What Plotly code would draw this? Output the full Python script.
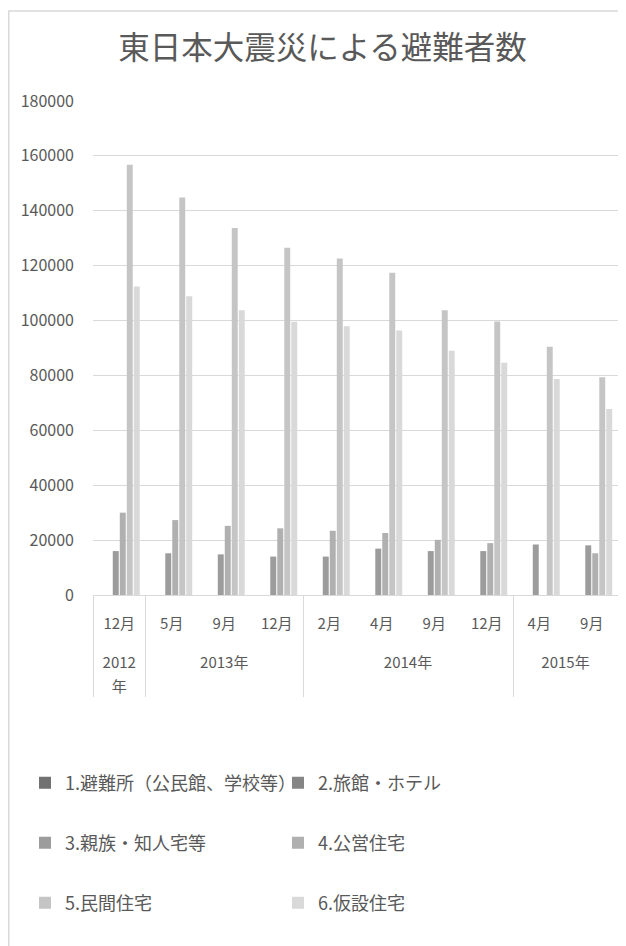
import plotly.graph_objects as go

years = ["2012<br>年", "2013年", "2013年", "2013年", "2014年", "2014年", "2014年", "2014年", "2015年", "2015年"]
months = ["12月", "5月", "9月", "12月", "2月", "4月", "9月", "12月", "4月", "9月"]

series_names = [
    "1.避難所（公民館、学校等）",
    "2.旅館・ホテル",
    "3.親族・知人宅等",
    "4.公営住宅",
    "5.民間住宅",
    "6.仮設住宅",
]
s1 = [0, 0, 0, 0, 0, 0, 0, 0, 0, 0]
s2 = [0, 0, 0, 0, 0, 0, 0, 0, 0, 0]
s3 = [16000, 15200, 14800, 14000, 14000, 16900, 16000, 16000, 18400, 18100]
s4 = [30000, 27300, 25200, 24300, 23400, 22600, 20100, 18900, 0, 15200]
s5 = [156800, 144800, 133700, 126500, 122600, 117400, 103800, 99700, 90500, 79300]
s6 = [112400, 108900, 103800, 99600, 97900, 96400, 89000, 84600, 78700, 67800]
values = [s1, s2, s3, s4, s5, s6]
colors = ["#717171", "#858585", "#9c9c9c", "#b0b0b0", "#c5c5c5", "#d9d9d9"]
legend_ids = ["legend", "legend", "legend2", "legend2", "legend3", "legend3"]

# Axis label text is drawn at 15px inside a larger base font so that the
# line spacing (1.3 x base) matches the reference's roomier label rows.
SPAN = "<span style='font-size:15px'>{}</span>"
year_labels = ["<br>".join(SPAN.format(part) for part in y.split("<br>")) for y in years]
# Plotly orders the second level of a multicategory axis by first appearance,
# so each month label gets a distinct number of zero-width spaces (invisible)
# to keep the original order; a blank line lowers the year row.
ZW = "\u200b"
month_labels = [ZW * i + SPAN.format(m) + "<br>\u00a0" for i, m in enumerate(months)]

fig = go.Figure()
for name, vals, col, lg in zip(series_names, values, colors, legend_ids):
    fig.add_trace(go.Bar(
        x=[year_labels, month_labels], y=vals, name=name,
        marker=dict(color=col, line=dict(width=0)),
        legend=lg,
    ))

# page body has an 8px margin: figure coordinates = screen - 8
W, H = 618, 938
L, R, T, B = 85, 8, 93, 351
pw = W - L - R
ph = H - T - B

def px_x(x):
    return (x - L) / pw

def px_y(y):
    return (H - B - y) / ph

legend_common = dict(
    orientation="h",
    entrywidth=208,
    entrywidthmode="pixels",
    font=dict(family="Noto Sans CJK JP", size=18, color="#595959"),
    xanchor="left",
    yanchor="middle",
    bgcolor="rgba(0,0,0,0)",
)

fig.update_layout(
    width=W, height=H,
    margin=dict(l=L, r=R, t=T, b=B),
    paper_bgcolor="white",
    plot_bgcolor="white",
    barmode="group",
    bargap=0.2,
    bargroupgap=0.15,
    title=dict(
        text="東日本大震災による避難者数",
        font=dict(family="Noto Sans CJK JP", size=31.5, color="#595959"),
        x=314.5 / W, xref="container", xanchor="center",
        y=1 - 40 / H, yref="container", yanchor="middle",
    ),
    font=dict(family="Noto Sans CJK JP", color="#595959"),
    xaxis=dict(
        type="multicategory",
        showdividers=True,
        dividercolor="#d9d9d9",
        dividerwidth=1,
        showline=True,
        linecolor="#d9d9d9",
        linewidth=1,
        ticks="",
        showgrid=False,
        ticklabelstandoff=10,
        tickfont=dict(family="Noto Sans CJK JP", size=19, color="#595959"),
    ),
    yaxis=dict(
        range=[0, 180000],
        dtick=20000,
        tickformat="d",
        showgrid=True,
        gridcolor="#d9d9d9",
        gridwidth=1,
        zeroline=False,
        showline=False,
        ticks="",
        ticklabelstandoff=18,
        tickfont=dict(family="Noto Sans CJK JP", size=16, color="#595959"),
    ),
    legend=dict(x=px_x(17), y=px_y(775), **legend_common),
    legend2=dict(x=px_x(17), y=px_y(835), **legend_common),
    legend3=dict(x=px_x(17), y=px_y(895), **legend_common),
    shapes=[dict(
        type="rect", xref="paper", yref="paper",
        x0=px_x(0.75), x1=px_x(640), y0=px_y(960), y1=px_y(3),
        line=dict(color="#d9d9d9", width=1.5),
        fillcolor="rgba(0,0,0,0)",
        layer="below",
    )],
)

fig.write_html("out.html")
